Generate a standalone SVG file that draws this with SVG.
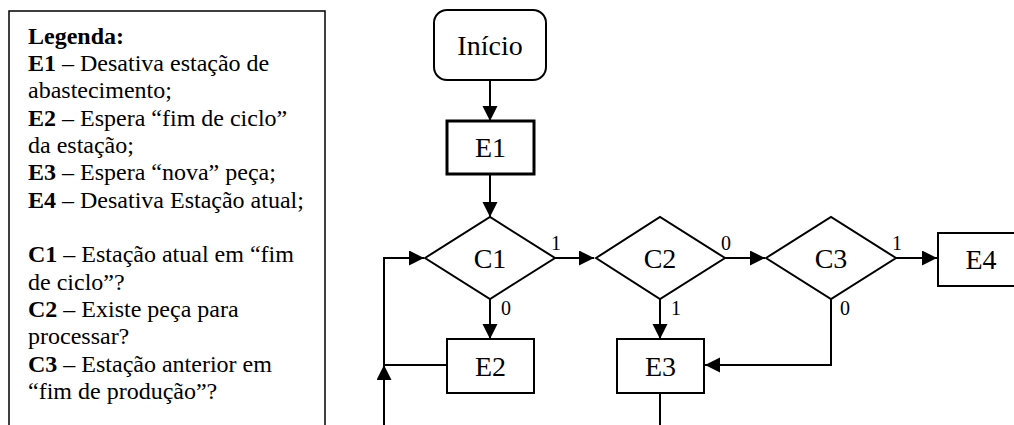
<svg xmlns="http://www.w3.org/2000/svg" width="1014" height="425" viewBox="0 0 1014 425">
<style>
  .box { fill: #fff; stroke: #000; stroke-width: 2; }
  .thick { stroke-width: 3; }
  .conn { fill: none; stroke: #000; stroke-width: 2; }
  .lbl { font-family: "Liberation Serif", "Times New Roman", serif; font-size: 28px; fill: #000; text-anchor: middle; }
  .el { font-family: "Liberation Serif", "Times New Roman", serif; font-size: 20px; fill: #000; }
  .leg { font-family: "Liberation Serif", "Times New Roman", serif; font-size: 24px; fill: #000; }
  .b { font-weight: bold; }
</style>
<defs>
  <marker id="arr" markerUnits="userSpaceOnUse" markerWidth="16" markerHeight="16" refX="15" refY="7.5" orient="auto">
    <path d="M0,0 L15,7.5 L0,15 z" fill="#000"/>
  </marker>
</defs>
<rect width="1014" height="425" fill="#fff"/>

<g id="legend">
  <rect x="9" y="11" width="316" height="430" fill="#fff" stroke="#000" stroke-width="1.5"/>
  <text class="leg" x="28" y="44"><tspan class="b">Legenda:</tspan></text>
  <text class="leg" x="28" y="71"><tspan class="b">E1</tspan> – Desativa estação de</text>
  <text class="leg" x="28" y="98">abastecimento;</text>
  <text class="leg" x="28" y="126"><tspan class="b">E2</tspan> – Espera “fim de ciclo”</text>
  <text class="leg" x="28" y="153">da estação;</text>
  <text class="leg" x="28" y="180"><tspan class="b">E3</tspan> – Espera “nova” peça;</text>
  <text class="leg" x="28" y="208"><tspan class="b">E4</tspan> – Desativa Estação atual;</text>
  <text class="leg" x="28" y="262"><tspan class="b">C1</tspan> – Estação atual em “fim</text>
  <text class="leg" x="28" y="290">de ciclo”?</text>
  <text class="leg" x="28" y="317"><tspan class="b">C2</tspan> – Existe peça para</text>
  <text class="leg" x="28" y="344">processar?</text>
  <text class="leg" x="28" y="372"><tspan class="b">C3</tspan> – Estação anterior em</text>
  <text class="leg" x="28" y="399">“fim de produção”?</text>
</g>

<g id="connectors">
  <path class="conn" d="M490,80 L490,121" marker-end="url(#arr)"/>
  <path class="conn" d="M490,174 L490,217" marker-end="url(#arr)"/>
  <path class="conn" d="M555,258 L594,258" marker-end="url(#arr)"/>
  <path class="conn" d="M725,258 L765,258" marker-end="url(#arr)"/>
  <path class="conn" d="M896,258 L937,258" marker-end="url(#arr)"/>
  <path class="conn" d="M490,299 L490,339" marker-end="url(#arr)"/>
  <path class="conn" d="M660,299 L660,339" marker-end="url(#arr)"/>
  <path class="conn" d="M831,299 L831,365 L705,365" marker-end="url(#arr)"/>
  <path class="conn" d="M660,393 L660,425"/>
  <path class="conn" d="M447,365 L384,365"/>
  <path class="conn" d="M384,425 L384,365" marker-end="url(#arr)"/>
  <path class="conn" d="M384,366 L384,258 L424,258" marker-end="url(#arr)"/>
  <text class="el" x="551" y="250">1</text>
  <text class="el" x="501" y="315">0</text>
  <text class="el" x="721" y="250">0</text>
  <text class="el" x="671" y="315">1</text>
  <text class="el" x="892" y="250">1</text>
  <text class="el" x="840" y="315">0</text>
</g>

<g id="inicio">
  <rect class="box" x="434" y="10" width="112" height="70" rx="13"/>
  <text class="lbl" x="490" y="55">Início</text>
</g>
<g id="E1">
  <rect class="box thick" x="447" y="121" width="87" height="53"/>
  <text class="lbl" x="490.5" y="157">E1</text>
</g>
<g id="C1">
  <polygon class="box" points="425,258 490,217 555,258 490,299"/>
  <text class="lbl" x="490" y="268">C1</text>
</g>
<g id="C2">
  <polygon class="box" points="596,258 660,217 725,258 660,299"/>
  <text class="lbl" x="660" y="268">C2</text>
</g>
<g id="C3">
  <polygon class="box" points="766,258 831,217 896,258 831,299"/>
  <text class="lbl" x="831" y="268">C3</text>
</g>
<g id="E4">
  <rect class="box" x="938" y="233" width="87" height="53"/>
  <text class="lbl" x="981" y="269">E4</text>
</g>
<g id="E2">
  <rect class="box" x="447" y="339" width="87" height="54"/>
  <text class="lbl" x="490.5" y="376">E2</text>
</g>
<g id="E3">
  <rect class="box" x="617" y="339" width="87" height="54"/>
  <text class="lbl" x="660.5" y="376">E3</text>
</g>
</svg>
